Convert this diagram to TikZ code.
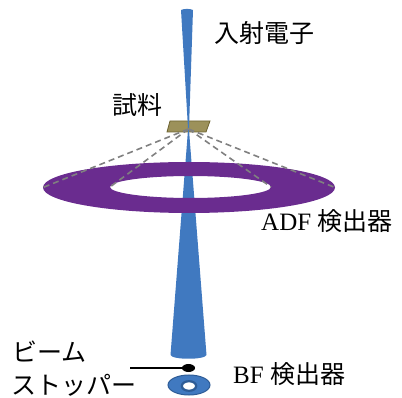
\documentclass[tikz,border=0pt]{standalone}
\usepackage{fontspec}
\setmainfont{Liberation Serif}
\newfontfamily\jp{Noto Sans CJK JP}
\definecolor{beamblue}{HTML}{4079C0}
\definecolor{beamdark}{HTML}{2E5C96}
\definecolor{ringpurple}{HTML}{6A2C8F}
\definecolor{samplefill}{HTML}{9C915A}
\definecolor{sampleedge}{HTML}{6E6432}
\definecolor{dashgray}{HTML}{808080}
\tikzset{
  beam/.style={fill=beamblue},
  ring/.style={fill=ringpurple, even odd rule},
  scatter/.style={draw=dashgray, line width=1.6pt, dash pattern=on 6pt off 4pt},
  label/.style={inner sep=0pt, font=\fontsize{25}{30}\selectfont},
}
\begin{document}
\begin{tikzpicture}[x=1pt,y=-1pt]
\useasboundingbox (0,0) rectangle (402,398);

% sample plate
\filldraw[fill=samplefill, draw=sampleedge, line width=0.8pt]
  (170,121) -- (210,121) -- (206,132) -- (167,132) -- cycle;
\coordinate (s) at (188.5,129);

% incident (converging) beam
\fill[beam] (181,10) .. controls (184,8.5) and (190,8.5) .. (193,10)
  -- (189,128) -- (188,128) -- cycle;

% transmitted (diverging) beam
\fill[beam] (188,130) -- (189,130) -- (206.5,355)
  .. controls (205,360) and (172,360) .. (170.5,355) -- cycle;

% ADF annular detector
\fill[ring] (189,187.5) ellipse [x radius=146, y radius=25.5]
            (190.5,187) ellipse [x radius=80.5, y radius=11];

% scattered-electron cones
\coordinate (oL) at (43,187.5);
\coordinate (iL) at (110,187);
\coordinate (iR) at (271,187);
\coordinate (oR) at (335,187.5);
\draw[scatter] (s) -- (oL);
\draw[scatter] (s) -- (iL);
\draw[scatter] (s) -- (iR);
\draw[scatter] (s) -- (oR);

% beam stopper
\coordinate (stopend) at (130,368);
\coordinate (stop) at (188.5,368);
\draw[line width=2pt] (stopend) -- (stop);
\fill (stop) ellipse [x radius=6.5, y radius=4];

% BF detector
\filldraw[fill=beamblue, draw=beamdark, line width=1pt]
  (189,385) ellipse [x radius=21, y radius=10];
\filldraw[fill=white, draw=beamdark, line width=2.2pt]
  (189,386) ellipse [x radius=7.2, y radius=4.8];

% labels
\node[label, anchor=base west] (incident) at (214,43) {\jp 入射電子};
\node[label, anchor=base west] (sample) at (112,115) {\jp 試料};
\node[label, anchor=base west] (adf) at (261,231) {ADF {\jp 検出器}};
\node[label, anchor=base west] (bf) at (233,384) {BF {\jp 検出器}};
\node[label, anchor=base west] (beamlbl) at (12,361) {\jp ビーム};
\node[label, anchor=base west] (stopper) at (11,394) {\jp ストッパー};
\end{tikzpicture}
\end{document}
